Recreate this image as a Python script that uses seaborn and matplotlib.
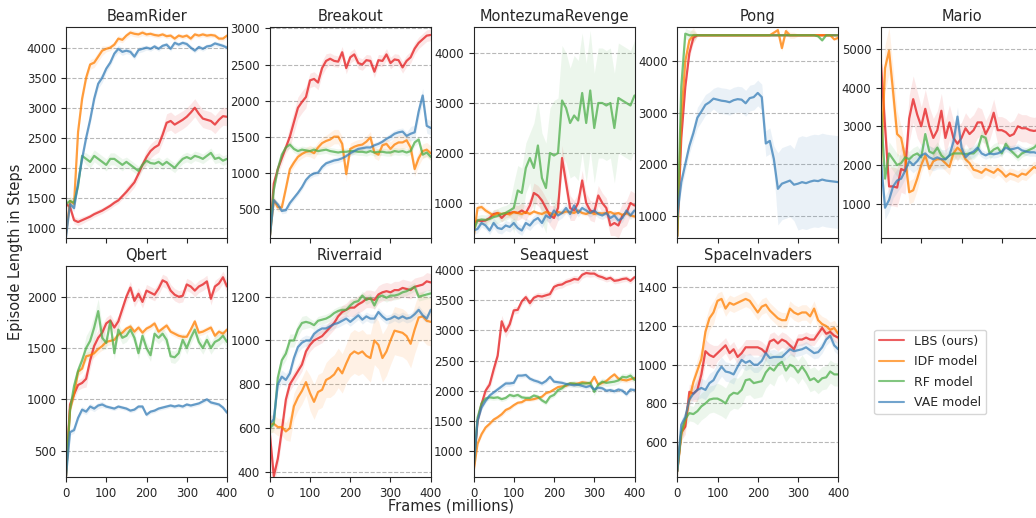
import matplotlib.pyplot as plt
import numpy as np
import pandas as pd
import seaborn as sns
from matplotlib.ticker import MultipleLocator

# frames in millions, one reading every 10M
frames = np.arange(0, 401, 10)
models = ["LBS (ours)", "IDF model", "RF model", "VAE model"]
games = ["BeamRider", "Breakout", "MontezumaRevenge", "Pong", "Mario",
         "Qbert", "Riverraid", "Seaquest", "SpaceInvaders"]

# --- BeamRider
beamrider_lbs = [1400, 1350, 1130, 1100, 1130, 1160, 1190, 1230, 1260, 1290, 1330, 1370, 1420, 1460, 1530, 1600, 1680, 1760, 1900, 2050, 2180,
                 2280, 2340, 2380, 2550, 2750, 2780, 2720, 2760, 2800, 2850, 2920, 3000, 2900, 2820, 2800, 2780, 2720, 2800, 2860, 2850]
beamrider_idf = [900, 1450, 1400, 2600, 3150, 3500, 3720, 3750, 3850, 3950, 3980, 4000, 4050, 4150, 4130, 4200, 4250, 4230, 4220, 4250, 4220,
                 4230, 4210, 4200, 4220, 4190, 4200, 4150, 4200, 4180, 4200, 4150, 4220, 4200, 4220, 4200, 4210, 4200, 4150, 4150, 4200]
beamrider_rf = [1400, 1450, 1420, 1700, 2200, 2150, 2100, 2200, 2150, 2100, 2050, 2150, 2150, 2100, 2050, 2100, 2050, 2000, 1950, 2050, 2120,
                2080, 2070, 2100, 2050, 2100, 2050, 2000, 2080, 2150, 2180, 2150, 2200, 2180, 2150, 2200, 2250, 2150, 2170, 2120, 2150]
beamrider_vae = [850, 1400, 1330, 1750, 2150, 2500, 2800, 3150, 3400, 3500, 3650, 3750, 3900, 3980, 3930, 3950, 3930, 3850, 3960, 3980, 4000,
                 3980, 4020, 3980, 4030, 4050, 3980, 4080, 4050, 4080, 4060, 4000, 3950, 4010, 3980, 4020, 4030, 4070, 4050, 4030, 4000]

# --- Breakout
breakout_lbs = [100, 850, 1050, 1200, 1350, 1500, 1700, 1900, 1980, 2050, 2280, 2300, 2250, 2450, 2550, 2580, 2550, 2540, 2670, 2450, 2600,
                2640, 2520, 2500, 2560, 2550, 2400, 2560, 2550, 2640, 2520, 2570, 2560, 2460, 2550, 2600, 2720, 2800, 2850, 2900, 2910]
breakout_idf = [100, 620, 520, 520, 780, 1050, 1140, 1220, 1260, 1290, 1300, 1270, 1350, 1410, 1440, 1460, 1500, 1500, 1400, 980, 1330,
                1360, 1380, 1390, 1430, 1490, 1280, 1250, 1380, 1400, 1330, 1390, 1420, 1420, 1450, 1350, 1050, 1200, 1300, 1320, 1270]
breakout_rf = [100, 760, 1050, 1250, 1350, 1390, 1330, 1300, 1320, 1310, 1300, 1320, 1300, 1310, 1320, 1300, 1290, 1280, 1290, 1290, 1300,
               1300, 1290, 1290, 1280, 1300, 1280, 1290, 1290, 1280, 1280, 1300, 1290, 1300, 1280, 1300, 1420, 1460, 1250, 1280, 1220]
breakout_vae = [100, 620, 560, 470, 480, 580, 650, 720, 800, 900, 960, 990, 1000, 1080, 1130, 1150, 1170, 1180, 1200, 1230, 1270,
                1300, 1330, 1340, 1350, 1350, 1380, 1400, 1430, 1470, 1500, 1540, 1560, 1570, 1510, 1540, 1560, 1850, 2070, 1650, 1620]

# --- MontezumaRevenge
montezuma_lbs = [600, 650, 640, 650, 700, 780, 800, 700, 780, 800, 820, 800, 850, 800, 950, 1200, 1150, 1050, 900, 750, 700,
                 900, 1900, 1400, 900, 850, 1000, 1450, 1000, 850, 820, 1150, 1000, 900, 550, 600, 550, 750, 800, 1000, 950]
montezuma_idf = [300, 900, 920, 850, 800, 750, 800, 780, 800, 770, 820, 800, 780, 820, 780, 830, 800, 780, 820, 800, 760,
                 820, 800, 830, 820, 800, 850, 800, 780, 820, 780, 800, 790, 800, 820, 780, 800, 760, 800, 750, 730]
montezuma_rf = [450, 650, 670, 660, 680, 720, 740, 780, 800, 850, 900, 1250, 1200, 1700, 1900, 1700, 2150, 1500, 1300, 2000, 1950,
                2000, 3050, 2900, 2600, 2750, 2650, 3200, 2600, 3250, 2500, 3000, 3000, 2950, 3000, 2500, 3100, 3050, 3000, 2950, 3150]
montezuma_vae = [450, 480, 600, 550, 450, 600, 500, 480, 550, 520, 600, 500, 450, 600, 550, 650, 700, 600, 750, 700, 850,
                 750, 800, 900, 780, 950, 800, 900, 850, 800, 850, 780, 750, 800, 700, 750, 650, 700, 850, 750, 850]

# --- Pong
pong_lbs = [600, 2500, 3500, 4150, 4450, 4500, 4500, 4500, 4500, 4500, 4500, 4500, 4500, 4500, 4500, 4500, 4500, 4500, 4500, 4500, 4500,
            4500, 4500, 4500, 4500, 4500, 4500, 4500, 4500, 4500, 4500, 4500, 4500, 4500, 4500, 4500, 4500, 4500, 4500, 4500, 4500]
pong_idf = [600, 2900, 4000, 4400, 4500, 4500, 4500, 4500, 4500, 4500, 4500, 4500, 4500, 4500, 4500, 4500, 4500, 4500, 4500, 4500, 4500,
            4500, 4500, 4500, 4550, 4600, 4250, 4580, 4500, 4500, 4500, 4500, 4500, 4500, 4500, 4500, 4500, 4500, 4500, 4420, 4450]
pong_rf = [600, 3500, 4530, 4500, 4500, 4500, 4500, 4500, 4500, 4500, 4500, 4500, 4500, 4500, 4500, 4500, 4500, 4500, 4500, 4500, 4500,
           4500, 4500, 4500, 4500, 4500, 4500, 4500, 4500, 4500, 4500, 4500, 4500, 4500, 4500, 4480, 4400, 4500, 4500, 4500, 4500]
pong_vae = [1000, 1650, 2000, 2350, 2600, 2900, 3020, 3150, 3200, 3270, 3250, 3230, 3220, 3200, 3240, 3260, 3250, 3180, 3280, 3300, 3380,
            3300, 2400, 2450, 2100, 1520, 1620, 1650, 1680, 1600, 1620, 1650, 1630, 1660, 1680, 1670, 1700, 1680, 1670, 1660, 1650]

# --- Mario
mario_lbs = [4600, 3000, 1450, 1450, 1420, 1900, 1850, 3200, 3700, 3300, 3000, 3450, 3000, 2700, 2900, 3400, 2700, 3100, 2700, 2550, 2700,
             2950, 2800, 2900, 3100, 3100, 2800, 3000, 3350, 2900, 2900, 2850, 2750, 2800, 3000, 2950, 2950, 2900, 2880, 2900, 2850]
mario_idf = [2000, 4500, 4950, 3900, 2800, 2700, 2200, 1300, 1350, 1650, 2000, 2250, 1900, 2100, 2150, 2150, 2050, 1950, 2300, 2450, 2350,
             2150, 2050, 1880, 1850, 1800, 1900, 1850, 1800, 1900, 1820, 1700, 1780, 1750, 1700, 1780, 1750, 1850, 1950, 1900, 1900]
mario_rf = [3400, 1650, 2300, 2150, 2000, 2050, 2200, 2150, 2250, 2300, 2200, 2800, 2350, 2300, 2450, 2250, 2150, 2250, 2300, 2300, 2300,
            2280, 2300, 2300, 2400, 2750, 2700, 2300, 2400, 2450, 2300, 2550, 2400, 2300, 2200, 2300, 2350, 2400, 2450, 2550, 2500]
mario_vae = [2100, 900, 1100, 1450, 1600, 1650, 1850, 2100, 2000, 2100, 2250, 2300, 2200, 2150, 2200, 2150, 2150, 2250, 2600, 3250, 2450,
             2200, 2300, 2350, 2450, 2300, 2250, 2300, 2280, 2300, 2350, 2450, 2400, 2420, 2450, 2380, 2350, 2330, 2330, 2300, 2300]

# --- Qbert
qbert_lbs = [250, 950, 1050, 1140, 1160, 1200, 1380, 1520, 1600, 1650, 1740, 1770, 1700, 1760, 1880, 2000, 2090, 1960, 2030, 1950, 2060,
             2040, 2020, 2080, 2160, 2140, 2060, 2020, 2000, 2010, 2120, 2100, 2060, 2100, 2120, 2150, 1980, 2100, 2130, 2190, 2100]
qbert_idf = [250, 900, 1050, 1270, 1300, 1420, 1430, 1450, 1490, 1520, 1560, 1570, 1580, 1630, 1650, 1690, 1710, 1660, 1700, 1650, 1690,
             1710, 1740, 1660, 1690, 1720, 1660, 1640, 1620, 1610, 1610, 1680, 1760, 1650, 1660, 1680, 1700, 1620, 1660, 1640, 1680]
qbert_rf = [250, 900, 1130, 1280, 1380, 1500, 1570, 1700, 1860, 1600, 1550, 1760, 1450, 1680, 1600, 1620, 1680, 1600, 1450, 1620, 1500,
            1430, 1640, 1600, 1640, 1580, 1420, 1410, 1450, 1580, 1500, 1600, 1680, 1560, 1500, 1580, 1500, 1560, 1580, 1620, 1560]
qbert_vae = [250, 680, 700, 820, 900, 880, 930, 910, 940, 950, 930, 920, 910, 930, 920, 910, 890, 900, 930, 930, 850,
             880, 890, 910, 920, 930, 940, 930, 940, 930, 950, 940, 950, 960, 980, 1000, 970, 960, 950, 920, 870]

# --- Riverraid
riverraid_lbs = [580, 380, 460, 590, 730, 800, 830, 860, 890, 950, 980, 1000, 1010, 1020, 1040, 1060, 1080, 1110, 1130, 1140, 1150,
                 1150, 1165, 1175, 1190, 1190, 1185, 1210, 1220, 1225, 1220, 1230, 1230, 1240, 1235, 1230, 1245, 1250, 1255, 1270, 1265]
riverraid_idf = [620, 620, 605, 605, 585, 600, 700, 740, 770, 810, 760, 720, 765, 775, 820, 830, 845, 875, 850, 895, 935,
                 950, 940, 950, 930, 920, 1000, 980, 920, 950, 1000, 1045, 1040, 1035, 1020, 985, 1050, 1105, 1110, 1090, 1085]
riverraid_rf = [600, 620, 830, 910, 940, 1000, 1000, 1050, 1080, 1085, 1080, 1070, 1090, 1095, 1100, 1110, 1125, 1135, 1140, 1140, 1160,
                1175, 1180, 1205, 1185, 1195, 1160, 1200, 1205, 1195, 1205, 1205, 1210, 1220, 1225, 1235, 1245, 1200, 1205, 1210, 1215]
riverraid_vae = [620, 640, 800, 835, 820, 850, 920, 970, 990, 1000, 1000, 1030, 1045, 1055, 1055, 1065, 1075, 1080, 1090, 1100, 1085,
                 1100, 1115, 1095, 1110, 1100, 1100, 1130, 1110, 1095, 1100, 1110, 1100, 1110, 1100, 1105, 1120, 1140, 1115, 1100, 1140]

# --- Seaquest
seaquest_lbs = [650, 1500, 1780, 2000, 2100, 2350, 2580, 3150, 2980, 3100, 3330, 3340, 3480, 3550, 3450, 3540, 3570, 3560, 3580, 3600, 3720,
                3750, 3760, 3800, 3820, 3850, 3840, 3920, 3950, 3940, 3940, 3900, 3880, 3850, 3870, 3820, 3830, 3850, 3860, 3820, 3880]
seaquest_idf = [650, 1120, 1280, 1390, 1450, 1520, 1560, 1610, 1680, 1710, 1760, 1800, 1810, 1850, 1850, 1860, 1880, 1900, 1960, 1980, 2020,
                2060, 2070, 2080, 2120, 2110, 2120, 2140, 2130, 2120, 2230, 2100, 2130, 2160, 2220, 2270, 2200, 2180, 2170, 2190, 2210]
seaquest_rf = [700, 1550, 1790, 1870, 1890, 1880, 1890, 1860, 1880, 1930, 1910, 1930, 1890, 1880, 1880, 1920, 1900, 1840, 1800, 1900, 1930,
               2010, 2040, 2100, 2120, 2120, 2100, 2120, 2120, 2130, 1980, 2100, 2150, 2130, 2140, 2150, 2170, 2230, 2220, 2250, 2180]
seaquest_vae = [700, 1500, 1720, 1830, 1920, 1970, 2020, 2070, 2120, 2120, 2130, 2250, 2250, 2260, 2200, 2170, 2150, 2120, 2160, 2230, 2150,
                2140, 2130, 2110, 2100, 2090, 2100, 2080, 2060, 2080, 2020, 2050, 2040, 2000, 2010, 1990, 2020, 2000, 1940, 2020, 2010]

# --- SpaceInvaders
spaceinvaders_lbs = [450, 650, 680, 860, 850, 870, 950, 1070, 1050, 1040, 1060, 1080, 1100, 1060, 1080, 1040, 1060, 1090, 1090, 1090, 1090,
                     1080, 1060, 1120, 1130, 1110, 1130, 1120, 1100, 1080, 1130, 1130, 1140, 1130, 1130, 1160, 1190, 1160, 1170, 1150, 1140]
spaceinvaders_idf = [450, 640, 710, 820, 910, 970, 1030, 1170, 1240, 1270, 1330, 1340, 1290, 1320, 1310, 1320, 1330, 1340, 1330, 1300, 1270,
                     1300, 1310, 1280, 1260, 1240, 1230, 1230, 1290, 1270, 1260, 1270, 1270, 1250, 1290, 1230, 1210, 1200, 1180, 1190, 1160]
spaceinvaders_rf = [450, 650, 720, 750, 745, 760, 785, 800, 820, 825, 825, 815, 800, 840, 855, 850, 870, 920, 925, 905, 910,
                    915, 960, 985, 970, 1000, 1015, 970, 1000, 990, 960, 990, 960, 920, 930, 910, 930, 935, 965, 950, 950]
spaceinvaders_vae = [450, 690, 730, 820, 850, 870, 880, 870, 905, 920, 960, 990, 965, 960, 950, 990, 1025, 1010, 1020, 1000, 1000,
                     1020, 1060, 1035, 1040, 1040, 1040, 1060, 1080, 1070, 1075, 1080, 1090, 1075, 1060, 1065, 1090, 1130, 1150, 1100, 1080]

# band half-widths, one reading per 50M-frame block (0-40, 50-90, ..., 400)
beamrider_sd = [[60, 50, 50, 80, 120, 150, 150, 150, 150], [80, 80, 50, 50, 40, 40, 40, 40, 40],
                [60, 100, 100, 80, 80, 80, 80, 80, 80], [60, 80, 60, 50, 40, 40, 40, 40, 40]]
breakout_sd = [[80, 150, 100, 80, 80, 80, 80, 80, 80], [60, 60, 80, 100, 80, 80, 100, 100, 100],
               [40, 50, 50, 50, 50, 50, 50, 50, 50], [40, 40, 40, 40, 40, 40, 50, 100, 100]]
montezuma_sd = [[60, 80, 150, 200, 250, 200, 200, 250, 250], [60, 40, 40, 40, 40, 40, 40, 40, 40],
                [100, 150, 500, 900, 1100, 1200, 1100, 1100, 1100], [80, 100, 100, 100, 100, 80, 80, 80, 80]]
pong_sd = [[100, 20, 20, 20, 20, 20, 20, 20, 20], [150, 20, 20, 20, 20, 60, 20, 20, 40],
           [100, 20, 20, 20, 20, 20, 20, 20, 20], [150, 200, 250, 250, 250, 700, 900, 900, 900]]
mario_sd = [[500, 600, 500, 450, 400, 350, 350, 350, 350], [600, 300, 200, 200, 200, 150, 150, 150, 150],
            [300, 200, 150, 150, 150, 150, 100, 100, 100], [300, 200, 300, 250, 150, 100, 100, 100, 100]]
qbert_sd = [[50, 80, 60, 60, 60, 60, 60, 60, 60], [40, 40, 40, 30, 30, 30, 30, 30, 30],
            [60, 120, 60, 60, 60, 60, 60, 60, 60], [30, 30, 20, 20, 20, 20, 20, 20, 20]]
riverraid_sd = [[40, 30, 30, 30, 40, 40, 40, 40, 40], [40, 60, 80, 90, 100, 110, 110, 110, 110],
                [30, 30, 20, 20, 20, 20, 20, 20, 20], [30, 25, 20, 20, 20, 20, 20, 20, 20]]
seaquest_sd = [[80, 100, 60, 60, 60, 60, 50, 50, 50], [40, 40, 30, 30, 30, 40, 40, 40, 40],
               [40, 40, 40, 40, 40, 50, 60, 60, 60], [40, 50, 40, 40, 40, 40, 40, 40, 40]]
spaceinvaders_sd = [[40, 60, 40, 40, 40, 40, 30, 30, 30], [40, 60, 40, 40, 40, 40, 40, 40, 40],
                    [40, 70, 80, 80, 80, 60, 60, 60, 60], [30, 50, 50, 40, 40, 30, 30, 30, 30]]

y_limits = [(834, 4343), (95, 3020), (300, 4520), (566, 4660), (120, 5560),
            (243, 2300), (377, 1340), (570, 4066), (420, 1510)]
y_steps = [500, 500, 1000, 1000, 1000, 500, 200, 500, 200]

series = [
    [beamrider_lbs, beamrider_idf, beamrider_rf, beamrider_vae],
    [breakout_lbs, breakout_idf, breakout_rf, breakout_vae],
    [montezuma_lbs, montezuma_idf, montezuma_rf, montezuma_vae],
    [pong_lbs, pong_idf, pong_rf, pong_vae],
    [mario_lbs, mario_idf, mario_rf, mario_vae],
    [qbert_lbs, qbert_idf, qbert_rf, qbert_vae],
    [riverraid_lbs, riverraid_idf, riverraid_rf, riverraid_vae],
    [seaquest_lbs, seaquest_idf, seaquest_rf, seaquest_vae],
    [spaceinvaders_lbs, spaceinvaders_idf, spaceinvaders_rf, spaceinvaders_vae],
]
bands = [beamrider_sd, breakout_sd, montezuma_sd, pong_sd, mario_sd,
         qbert_sd, riverraid_sd, seaquest_sd, spaceinvaders_sd]

sns.set_style("ticks")
set1 = sns.color_palette("Set1")
palette = dict(zip(models, [set1[0], set1[4], set1[2], set1[1]]))

W, H = 1036, 518
fig = plt.figure(figsize=(W / 100, H / 100), dpi=100)

handles, labels = None, None
for i, game in enumerate(games):
    row, col = divmod(i, 5)
    left = 66 + col * 203.75
    top = 27 if row == 0 else 266
    ax = fig.add_axes([left / W, 1 - (top + 211) / H, 161 / W, 211 / H])

    df = pd.DataFrame({
        "frames": np.tile(frames, len(models)),
        "length": np.concatenate(series[i]),
        "model": np.repeat(models, len(frames)),
    })
    for m, vals, sd in zip(models, series[i], bands[i]):
        spread = np.repeat(sd, 5)[:len(frames)]
        vals = np.asarray(vals)
        ax.fill_between(frames, vals - spread, vals + spread, color=palette[m], alpha=0.1, lw=0)
    sns.lineplot(data=df, x="frames", y="length", hue="model", palette=palette,
                 linewidth=1.6, alpha=0.75, ax=ax, legend=(i == 0))
    if i == 0:
        handles, labels = ax.get_legend_handles_labels()
        ax.get_legend().remove()

    ax.set_xlim(0, 400)
    ax.set_xticks([0, 100, 200, 300, 400])
    ax.set_ylim(*y_limits[i])
    ax.yaxis.set_major_locator(MultipleLocator(y_steps[i]))
    ax.grid(axis="y", linestyle="--", color="0.72", linewidth=0.8)
    ax.tick_params(labelsize=8.5, length=3.5)
    if row == 0:
        ax.tick_params(labelbottom=False)
    ax.set_xlabel("")
    ax.set_ylabel("")
    ax.set_title(game, fontsize=10.5, pad=4)

for h in handles:
    h.set_alpha(0.7)
    h.set_linewidth(1.5)
fig.legend(handles, labels, loc="center left", bbox_to_anchor=(868 / W, 1 - 372 / H),
           fontsize=9, labelspacing=0.6)
fig.text(451 / W, 1 - 506 / H, "Frames (millions)", ha="center", va="center", fontsize=10.5)
fig.text(16 / W, 1 - 252 / H, "Episode Length in Steps", ha="center", va="center", rotation=90, fontsize=10.5)

fig.savefig("out.png", dpi=100)
